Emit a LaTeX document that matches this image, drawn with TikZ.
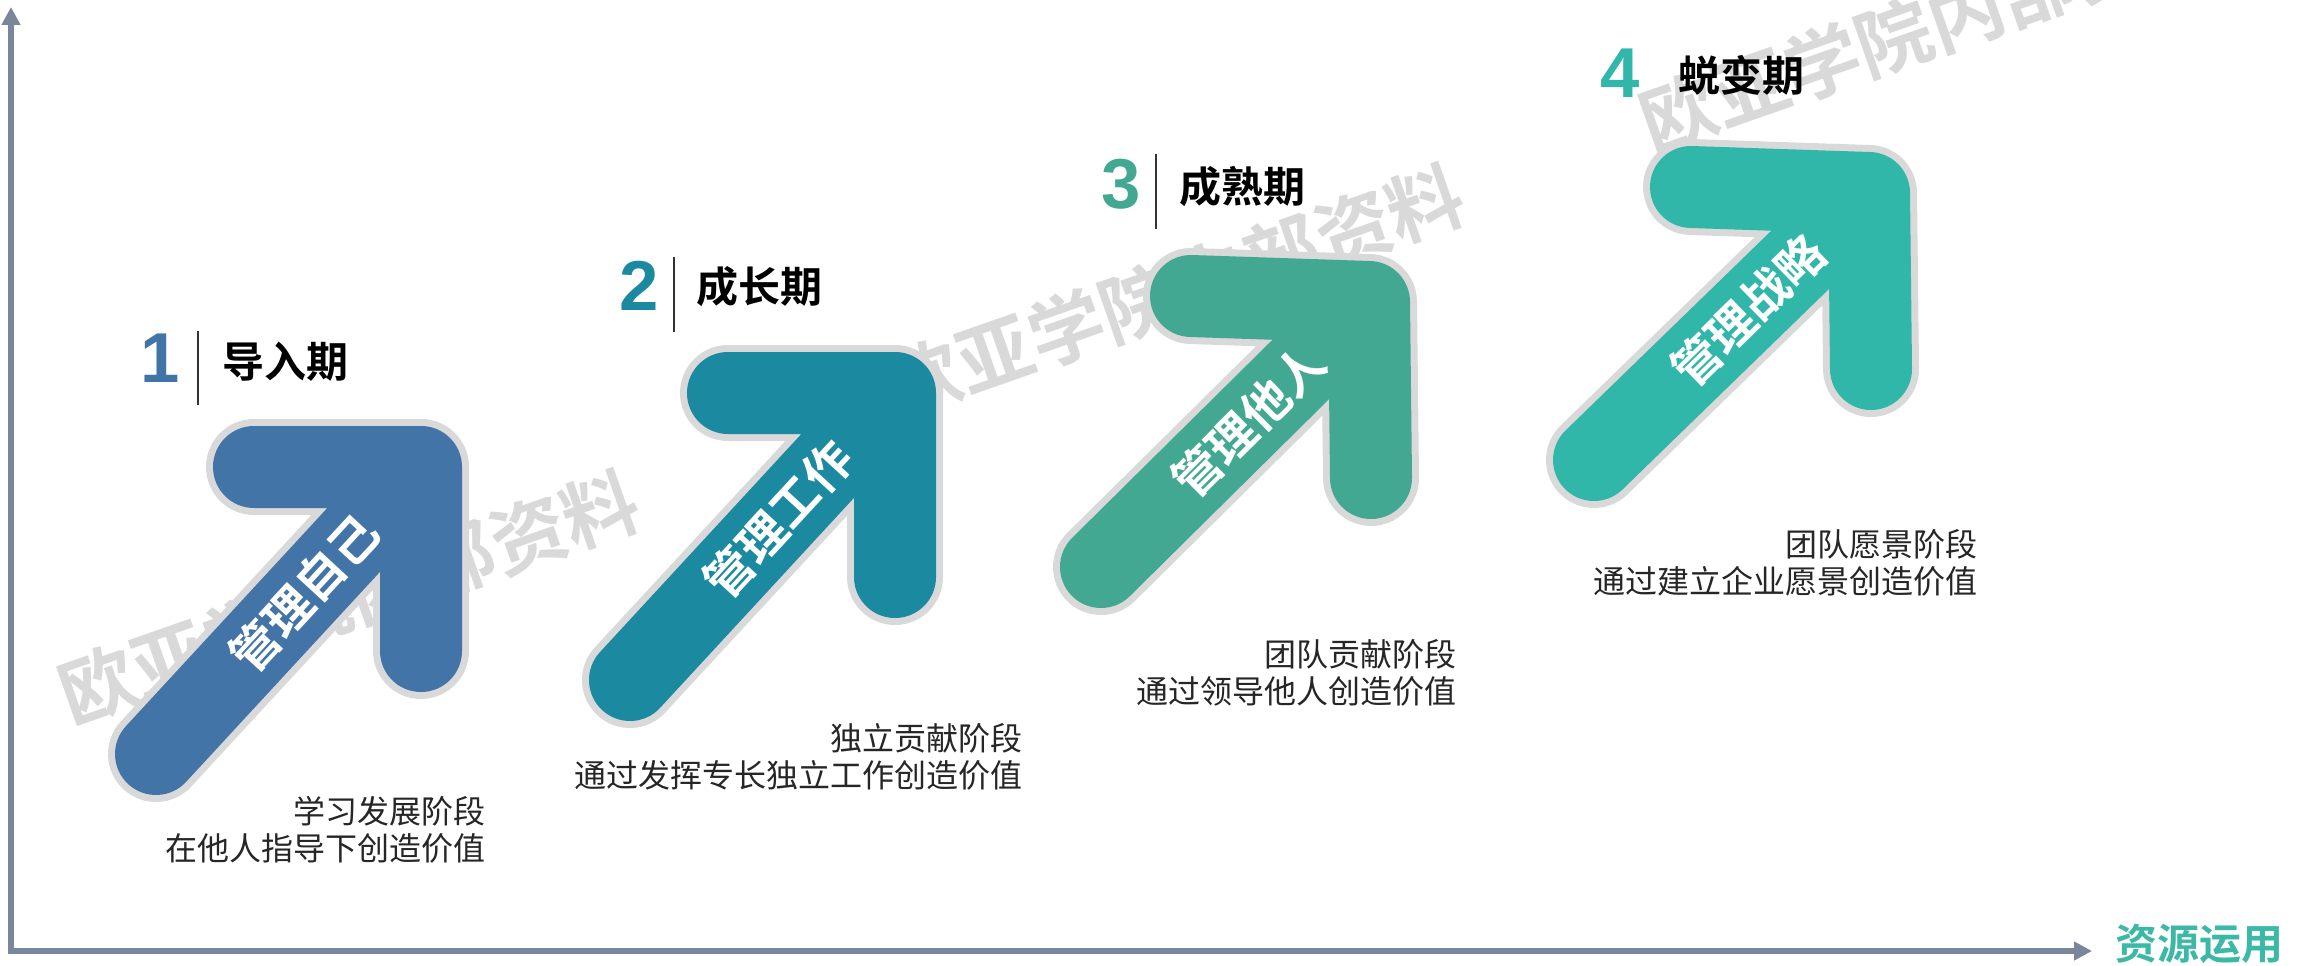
\documentclass[tikz,border=0pt]{standalone}
\usepackage{fontspec}
\setmainfont{Liberation Sans}
\newfontfamily\cjk[BoldFont={Noto Sans CJK SC Bold}]{Noto Sans CJK SC}
\usetikzlibrary{arrows.meta}

\definecolor{stageone}{RGB}{67,116,168}
\definecolor{stagetwo}{RGB}{27,137,160}
\definecolor{stagethree}{RGB}{66,168,146}
\definecolor{stagefour}{RGB}{49,183,170}
\definecolor{rimgrey}{RGB}{217,217,217}
\definecolor{axisgrey}{RGB}{122,134,155}

\begin{document}
\begin{tikzpicture}[x=0.75pt,y=0.75pt,yscale=-1,xscale=1,
    rim/.style={draw=rimgrey, line width=72pt, line cap=round, line join=round},
    body/.style={line width=61.5pt, line cap=round, line join=round},
    stamp/.style={text=rimgrey, rotate=19.3, inner sep=0, font=\cjk\bfseries\fontsize{57}{57}\selectfont},
    axisline/.style={draw=axisgrey, line width=4.5pt, {Triangle[length=13.5pt,width=13.5pt]}-{Triangle[length=13.5pt,width=13.5pt]}},
    stagetext/.style={text=white, inner sep=0, font=\cjk\bfseries\fontsize{36}{36}\selectfont},
    digit/.style={inner sep=0, font=\bfseries\fontsize{53}{53}\selectfont},
    title/.style={inner sep=0, font=\cjk\bfseries\fontsize{31.5}{32}\selectfont},
    sepline/.style={draw=black!80, line width=1.1pt},
    desc/.style={anchor=east, align=right, inner sep=0, text=black!85, font=\cjk\fontsize{24}{28}\selectfont}
  ]
    	\useasboundingbox (0,0) rectangle (2305,966);
    	
    	% watermark
    	\node [stamp] (w1) at (349,597) {欧亚学院内部资料};
    	\node [stamp] (w2) at (1174,291) {欧亚学院内部资料};
    	\node [stamp] (w3) at (1930,25) {欧亚学院内部资料};
    	
    	% axes
    	\coordinate (ytip) at (11,7);
    	\coordinate (o) at (11,951);
    	\coordinate (xtip) at (2092,951);
    	\draw [axisline] (ytip) -- (o) -- (xtip) ;
    	\node [text={rgb,255:red,59;green,185;blue,166}, font=\cjk\bfseries\fontsize{31.5}{32}\selectfont, inner sep=0] (xlab) at (2199,944) {资源运用};
    	
    	% arrow points: tail, corner, left end, bottom end
    	\coordinate (a1t) at (156,754);  \coordinate (a1c) at (421,467);  \coordinate (a1l) at (254,467);  \coordinate (a1b) at (421,651);
    	\coordinate (a2t) at (630,680);  \coordinate (a2c) at (895,393);  \coordinate (a2l) at (728,393);  \coordinate (a2b) at (895,577);
    	\coordinate (a3t) at (1101,567); \coordinate (a3c) at (1369,302); \coordinate (a3l) at (1191,296); \coordinate (a3b) at (1371,478);
    	\coordinate (a4t) at (1594,460); \coordinate (a4c) at (1869,193); \coordinate (a4l) at (1691,187); \coordinate (a4b) at (1871,369);
    	
    	\draw [rim] (a1t) -- (a1c) (a1l) -- (a1c) -- (a1b) ;
    	\draw [body, draw=stageone] (a1t) -- (a1c) (a1l) -- (a1c) -- (a1b) ;
    	\path (a1t) -- (a1c) node [stagetext, rotate=47.3, pos=0.56] (l1) {管理自己};
    	
    	\draw [rim] (a2t) -- (a2c) (a2l) -- (a2c) -- (a2b) ;
    	\draw [body, draw=stagetwo] (a2t) -- (a2c) (a2l) -- (a2c) -- (a2b) ;
    	\path (a2t) -- (a2c) node [stagetext, rotate=47.3, pos=0.56] (l2) {管理工作};
    	
    	\draw [rim] (a3t) -- (a3c) (a3l) -- (a3c) -- (a3b) ;
    	\draw [body, draw=stagethree] (a3t) -- (a3c) (a3l) -- (a3c) -- (a3b) ;
    	\path (a3t) -- (a3c) node [stagetext, rotate=44.7, pos=0.55] (l3) {管理他人};
    	
    	\draw [rim] (a4t) -- (a4c) (a4l) -- (a4c) -- (a4b) ;
    	\draw [body, draw=stagefour] (a4t) -- (a4c) (a4l) -- (a4c) -- (a4b) ;
    	\path (a4t) -- (a4c) node [stagetext, rotate=44.2, pos=0.56] (l4) {管理战略};
    	
    	% headings
    	\node [digit, text=stageone] (n1) at (160,358.5) {1};
    	\draw [sepline] (198,331) -- (198,405) ;
    	\node [title] (h1) at (285.5,362) {导入期};
    	\node [digit, text=stagetwo] (n2) at (639.5,285.5) {2};
    	\draw [sepline] (674,257) -- (674,332) ;
    	\node [title] (h2) at (759,287) {成长期};
    	\node [digit, text=stagethree] (n3) at (1121,184) {3};
    	\draw [sepline] (1156,154) -- (1156,229) ;
    	\node [title] (h3) at (1242.5,187) {成熟期};
    	\node [digit, text=stagefour] (n4) at (1620,73.5) {4};
    	\node [title] (h4) at (1741.5,75) {蜕变期};
    	
    	% descriptions
    	\node [desc] (d1) at (486,830) {学习发展阶段\\在他人指导下创造价值};
    	\node [desc] (d2) at (1023,757) {独立贡献阶段\\通过发挥专长独立工作创造价值};
    	\node [desc] (d3) at (1457,673) {团队贡献阶段\\通过领导他人创造价值};
    	\node [desc] (d4) at (1978,563) {团队愿景阶段\\通过建立企业愿景创造价值};
    	
\end{tikzpicture}
\end{document}
